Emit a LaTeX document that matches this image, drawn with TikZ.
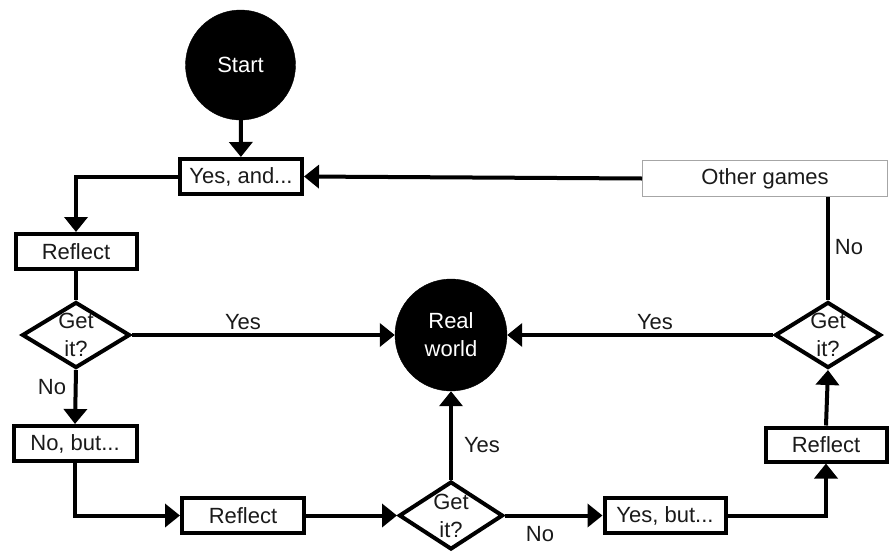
\documentclass[tikz,border=0pt]{standalone}
\usepackage{fontspec}
\setmainfont{Liberation Sans}
\usetikzlibrary{arrows.meta,shapes.geometric}
\definecolor{ink}{HTML}{1A1A1A}
\tikzset{
  base/.style={font=\fontsize{22}{28}\selectfont, text=ink},
  stepbox/.style={base, draw=black, line width=4pt, fill=white, inner sep=0pt,
    minimum width=#1, minimum height=35pt},
  stepbox/.default=121pt,
  terminal/.style={circle, fill=black, draw=black, inner sep=0pt, minimum size=110pt,
    font=\fontsize{22}{28}\selectfont, text=white, align=center},
  decision/.style={diamond, draw=black, line width=4pt, fill=white, inner sep=0pt,
    minimum width=#1, minimum height=66pt},
  decision/.default=108pt,
  dtext/.style={base, align=center, inner sep=0pt},
  lab/.style={base, inner sep=0pt},
  arr/.style={line width=4pt, -{Triangle[width=23pt,length=15pt]}},
  plain/.style={line width=4pt},
}
\begin{document}
\begin{tikzpicture}[x=1pt,y=-1pt]
\useasboundingbox (0,0) rectangle (889,552);

% nodes
\node[terminal] (start) at (240.5,65) {Start};
\node[stepbox=122pt] (yesand) at (241,176.5) {Yes, and...};
\node[base, draw=gray!70, line width=1pt, fill=white, minimum width=245pt, minimum height=36pt, inner sep=0pt] (other) at (765,178.5) {Other games};
\node[stepbox] (refl1) at (76,251.5) {Reflect};
\node[decision] (get1) at (76,335) {};
\node[dtext] at (get1) {Get\\it?};
\node[terminal, minimum size=112pt] (real) at (451,335) {Real\\world};
\node[decision=106pt] (get2) at (828,335) {};
\node[dtext] at (get2) {Get\\it?};
\node[stepbox=123pt] (nobut) at (75,443.5) {No, but...};
\node[stepbox=122pt] (refl2) at (243,515.5) {Reflect};
\node[decision=104pt, minimum height=68pt] (get3) at (451,515.5) {};
\node[dtext] at (get3) {Get\\it?};
\node[stepbox=121pt] (yesbut) at (665,515.5) {Yes, but...};
\node[stepbox=121pt, minimum height=34pt] (refl3) at (826,444.5) {Reflect};

% connectors
\draw[arr] (start) -- (yesand);
\draw[arr] (yesand.west) -| (refl1.north);
\draw[plain] (refl1.south) -- (get1.north);
\draw[arr] (get1.east) -- (real.west);
\draw[arr] (get1.south) -- (nobut.north);
\draw[arr] (nobut.south) |- (refl2.west);
\draw[arr] (refl2.east) -- (get3.west);
\draw[arr] (get3.north) -- (real.south);
\draw[arr] (get3.east) -- (yesbut.west);
\draw[arr] (yesbut.east) -| (refl3.south);
\draw[arr] (refl3.north) -- (get2.south);
\draw[arr] (get2.west) -- (real.east);
\draw[plain] (get2.north) -- (get2.north |- other.south);
\draw[arr] (other.west) -- (yesand.east);

% branch labels
\node[lab] at (243,322) {Yes};
\node[lab] at (52,387) {No};
\node[lab] at (655,322) {Yes};
\node[lab] at (849,247) {No};
\node[lab] at (482,445) {Yes};
\node[lab] at (540,534) {No};
\end{tikzpicture}
\end{document}
